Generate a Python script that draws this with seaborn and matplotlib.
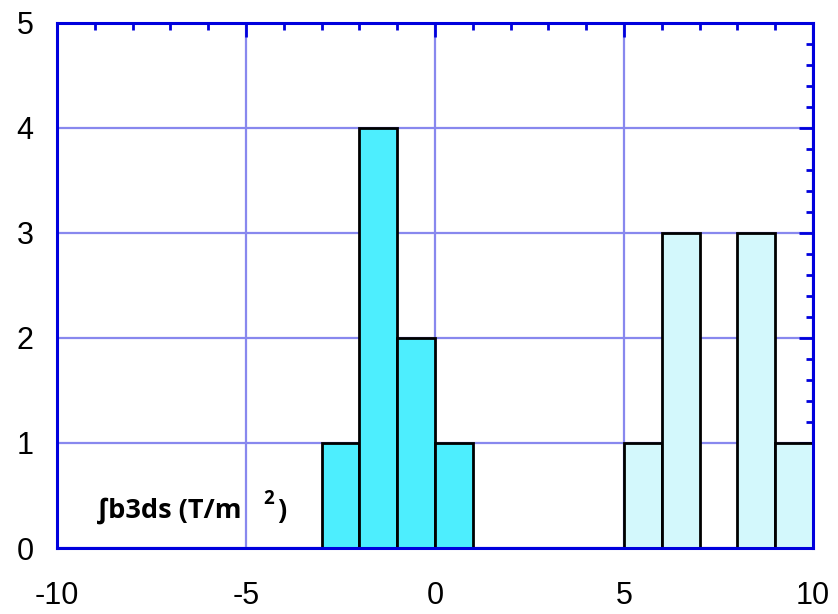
import numpy as np
import pandas as pd
import matplotlib
matplotlib.use("Agg")
import matplotlib.pyplot as plt
import seaborn as sns
from matplotlib.ticker import MultipleLocator

# Data (bin centres and counts)
centers_a = [-2.5, -1.5, -0.5, 0.5]
counts_a = [1, 4, 2, 1]
centers_b = [5.5, 6.5, 8.5, 9.5]
counts_b = [1, 3, 3, 1]
bins_a = [-3, -2, -1, 0, 1]
bins_b = [5, 6, 7, 8, 9, 10]
x_ticks = [-10, -5, 0, 5, 10]
y_ticks = [0, 1, 2, 3, 4, 5]
label_text = "∫b3ds (T/m"

sns.set_style("white")
plt.rcParams['font.family'] = ['Liberation Sans', 'DejaVu Sans']
plt.rcParams['text.color'] = 'black'

H = 614
fig = plt.figure(figsize=(8.38, 6.14), dpi=100)
ax = fig.add_axes([57/838, 1-548/614, (813-57)/838, (548-23)/614])

df_a = pd.DataFrame({"x": centers_a, "w": counts_a})
df_b = pd.DataFrame({"x": centers_b, "w": counts_b})

sns.histplot(data=df_a, x="x", weights="w", bins=bins_a, ax=ax,
             color="#4DEEFE", alpha=1, edgecolor="black", linewidth=2, zorder=2)
sns.histplot(data=df_b, x="x", weights="w", bins=bins_b, ax=ax,
             color="#D3F8FC", alpha=1, edgecolor="black", linewidth=2, zorder=2)

ax.set_xlim(-10, 10)
ax.set_ylim(0, 5)
ax.set_xlabel("")
ax.set_ylabel("")
ax.set_xticks(x_ticks)
ax.set_yticks(y_ticks)
ax.set_xticklabels([str(v) for v in x_ticks])
ax.set_yticklabels([str(v) for v in y_ticks])
ax.xaxis.set_minor_locator(MultipleLocator(1))
ax.yaxis.set_minor_locator(MultipleLocator(0.2))

ax.grid(True, which="major", color="#8888EE", linewidth=1.6, zorder=0)
ax.set_axisbelow(True)

for s in ax.spines.values():
    s.set_visible(True)
    s.set_color("#0000DD")
    s.set_linewidth(2.2)
    s.set_zorder(5)

ax.tick_params(which="major", direction="in", length=10, width=2, color="#0000DD",
               top=True, right=True, labelsize=22, labelcolor="black")
ax.tick_params(axis="x", which="major", pad=24)
ax.tick_params(axis="y", which="major", pad=17)
ax.tick_params(which="minor", direction="in", length=5, width=2, color="#0000DD",
               top=True, right=True)

bold = ['Open Sans', 'DejaVu Sans']
ax.text(97, H - 511, label_text, transform=None, fontsize=19.5, fontweight="bold",
        family=bold, ha="left", va="center", color="black")
ax.text(263, H - 499, "2", transform=None, fontsize=13.5, fontweight="bold",
        family=bold, ha="left", va="center", color="black")
ax.text(277, H - 511, ")", transform=None, fontsize=19.5, fontweight="bold",
        family=bold, ha="left", va="center", color="black")

fig.savefig("out.png", dpi=100)
